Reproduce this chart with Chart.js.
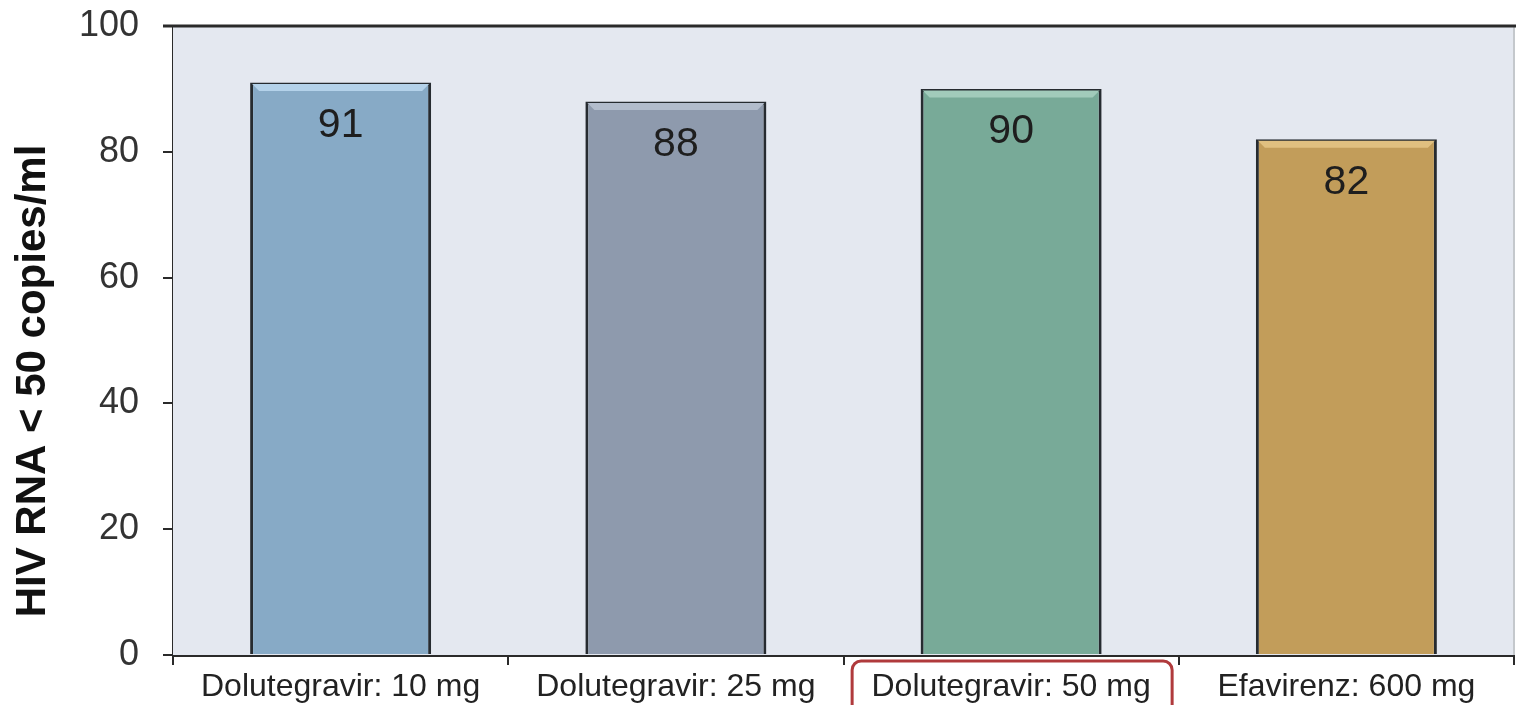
<!DOCTYPE html>
<html>
<head>
<meta charset="utf-8">
<script src="https://cdn.jsdelivr.net/npm/chart.js@4.4.1/dist/chart.umd.min.js"></script>
<style>
  html, body { margin: 0; padding: 0; background: #ffffff; }
  #wrap { width: 1516px; height: 705px; position: relative; }
</style>
</head>
<body>
<div id="wrap"><canvas id="c" width="1516" height="705"></canvas></div>
<script>
const categories = ["Dolutegravir: 10 mg", "Dolutegravir: 25 mg", "Dolutegravir: 50 mg", "Efavirenz: 600 mg"];
const values = [91, 88, 90, 82];
const barColors = ["#87aac6", "#8e9aad", "#78aa98", "#c29d5a"];
const highlightColors = ["#b4d2ea", "#b2bccc", "#a2cbbb", "#e0c080"];
const yTicks = [0, 20, 40, 60, 80, 100];
const yTitle = "HIV RNA < 50 copies/ml";
const highlightedIndex = 2;

const FONT = "'Liberation Sans', Arial, sans-serif";

const decor = {
  id: 'decor',
  beforeDatasetsDraw(chart) {
    const { ctx, chartArea: a } = chart;
    ctx.save();
    ctx.fillStyle = '#e4e8f0';
    ctx.fillRect(a.left, a.top, a.right - a.left, a.bottom - a.top);
    ctx.strokeStyle = '#c4c8cc';
    ctx.lineWidth = 2;
    ctx.beginPath();
    ctx.moveTo(a.right, a.top);
    ctx.lineTo(a.right, a.bottom);
    ctx.stroke();
    ctx.restore();
  },
  afterDatasetsDraw(chart) {
    const { ctx, chartArea: a } = chart;
    const meta = chart.getDatasetMeta(0);
    ctx.save();
    meta.data.forEach((bar, i) => {
      const w = bar.width;
      const x0 = bar.x - w / 2 + 2, x1 = bar.x + w / 2 - 2;
      const y0 = bar.y + 1.5;
      ctx.fillStyle = highlightColors[i];
      ctx.beginPath();
      ctx.moveTo(x0, y0);
      ctx.lineTo(x1, y0);
      ctx.lineTo(x1 - 7, y0 + 7);
      ctx.lineTo(x0 + 7, y0 + 7);
      ctx.closePath();
      ctx.fill();
      ctx.fillStyle = '#1e1e1e';
      ctx.font = '41px ' + FONT;
      ctx.textAlign = 'center';
      ctx.textBaseline = 'middle';
      ctx.fillText(String(values[i]), bar.x, bar.y + 43);
    });
    ctx.strokeStyle = '#2a2a2a';
    ctx.lineWidth = 3;
    ctx.beginPath();
    ctx.moveTo(a.left - 10, a.top);
    ctx.lineTo(chart.width, a.top);
    ctx.stroke();
    ctx.restore();
  },
  afterDraw(chart) {
    const { ctx } = chart;
    const xs = chart.scales.x;
    const cx = xs.getPixelForValue(highlightedIndex);
    const left = cx - 159, right = cx + 161;
    const top = 661, bottom = 720, r = 9;
    ctx.save();
    ctx.strokeStyle = '#b03a3c';
    ctx.lineWidth = 3;
    ctx.beginPath();
    ctx.moveTo(left, bottom);
    ctx.lineTo(left, top + r);
    ctx.arcTo(left, top, left + r, top, r);
    ctx.lineTo(right - r, top);
    ctx.arcTo(right, top, right, top + r, r);
    ctx.lineTo(right, bottom);
    ctx.stroke();
    ctx.translate(33, 381);
    ctx.rotate(-Math.PI / 2);
    ctx.fillStyle = '#111';
    ctx.font = 'bold 42px ' + FONT;
    ctx.textAlign = 'center';
    ctx.textBaseline = 'middle';
    ctx.fillText(yTitle, 0, 0);
    ctx.restore();
  }
};

new Chart(document.getElementById('c'), {
  type: 'bar',
  data: {
    labels: categories,
    datasets: [{
      data: values,
      backgroundColor: barColors,
      borderColor: '#262b30',
      borderWidth: 3,
      borderSkipped: 'bottom',
      barPercentage: 0.54,
      categoryPercentage: 1.0
    }]
  },
  options: {
    responsive: false,
    animation: false,
    devicePixelRatio: 1,
    layout: { padding: { top: 26, right: 2, left: 0, bottom: 0 } },
    plugins: { legend: { display: false }, tooltip: { enabled: false } },
    scales: {
      x: {
        offset: true,
        grid: { display: true, offset: true, drawOnChartArea: false, drawTicks: true, tickLength: 10, color: '#2a2a2a', lineWidth: 2 },
        border: { display: true, color: '#2a2a2a', width: 3 },
        ticks: { color: '#222', font: { family: FONT, size: 32 }, padding: 3, maxRotation: 0, autoSkip: false },
        afterFit(s) { s.height = 50; s.paddingLeft = 0; s.paddingRight = 0; }
      },
      y: {
        min: 0, max: 100,
        afterBuildTicks(s) { s.ticks = yTicks.map(v => ({ value: v })); },
        grid: { display: true, drawOnChartArea: false, drawTicks: true, tickLength: 10, color: '#2a2a2a', lineWidth: 2 },
        border: { display: true, color: '#2a2a2a', width: 3 },
        ticks: { color: '#333', font: { family: FONT, size: 36 }, padding: 24 },
        title: { display: false },
        afterFit(s) { s.width = 173; s.paddingTop = 0; s.paddingBottom = 0; }
      }
    }
  },
  plugins: [decor]
});
</script>
</body>
</html>
